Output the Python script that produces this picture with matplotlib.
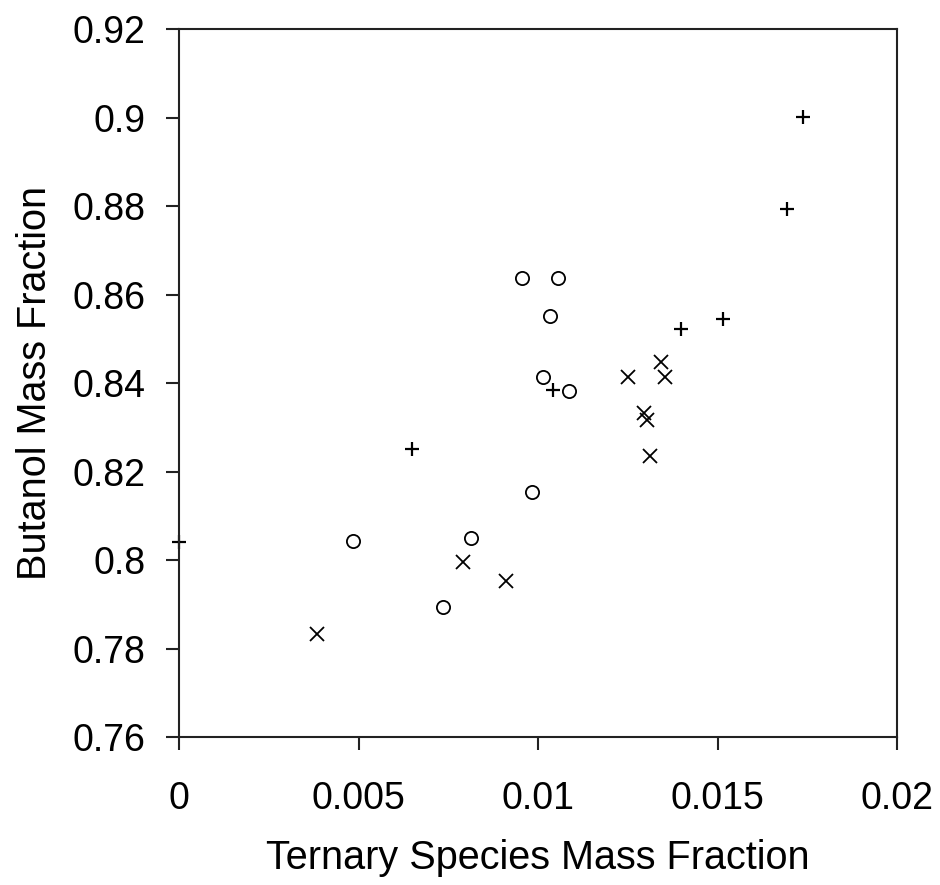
import matplotlib
matplotlib.use('Agg')
import matplotlib.pyplot as plt

plt.rcParams['font.family'] = ['Liberation Sans', 'DejaVu Sans']

# plus markers
plus_x = [0.0, 0.00647, 0.01042, 0.01398, 0.01514, 0.01694, 0.01738]
plus_y = [0.8042, 0.8251, 0.8385, 0.8522, 0.8545, 0.8793, 0.9001]

# circle markers
circ_x = [0.00483, 0.00735, 0.00812, 0.00982, 0.00955, 0.01056, 0.01034, 0.01012, 0.01086]
circ_y = [0.8044, 0.7894, 0.8050, 0.8154, 0.8637, 0.8637, 0.8552, 0.8413, 0.8383]

# cross markers
cross_x = [0.00384, 0.00789, 0.0091, 0.01251, 0.01343, 0.01354, 0.01294, 0.01304, 0.01311]
cross_y = [0.7833, 0.7996, 0.7954, 0.8415, 0.8447, 0.8415, 0.8332, 0.8316, 0.8236]

x_ticks = [0, 0.005, 0.01, 0.015, 0.02]
x_tick_labels = ['0', '0.005', '0.01', '0.015', '0.02']
y_ticks = [0.76, 0.78, 0.8, 0.82, 0.84, 0.86, 0.88, 0.9, 0.92]
y_tick_labels = ['0.76', '0.78', '0.8', '0.82', '0.84', '0.86', '0.88', '0.9', '0.92']

fig = plt.figure(figsize=(9.4, 8.85), dpi=100)
ax = fig.add_axes([0.1907, 0.1669, 0.9546 - 0.1907, 0.9672 - 0.1669])

ax.plot(plus_x, plus_y, linestyle='none', marker='+', color='black',
        markersize=10.5, markeredgewidth=1.6, clip_on=False)
ax.plot(circ_x, circ_y, linestyle='none', marker='o', markerfacecolor='none',
        markeredgecolor='black', markersize=9.5, markeredgewidth=1.3, clip_on=False)
ax.plot(cross_x, cross_y, linestyle='none', marker='x', color='black',
        markersize=10.5, markeredgewidth=1.3, clip_on=False)

ax.set_xlim(0, 0.02)
ax.set_ylim(0.76, 0.92)
ax.set_xticks(x_ticks)
ax.set_xticklabels(x_tick_labels)
ax.set_yticks(y_ticks)
ax.set_yticklabels(y_tick_labels)

for s in ax.spines.values():
    s.set_linewidth(1.5)
    s.set_color('#222222')

ax.tick_params(axis='both', direction='out', length=9.5, width=1.5,
               labelsize=27, color='#222222')
ax.tick_params(axis='x', pad=22)
ax.tick_params(axis='y', pad=15)

ax.set_xlabel('Ternary Species Mass Fraction', fontsize=28.5, labelpad=16)
ax.set_ylabel('Butanol Mass Fraction', fontsize=28.5, labelpad=13)

fig.savefig('out.png', dpi=100)
